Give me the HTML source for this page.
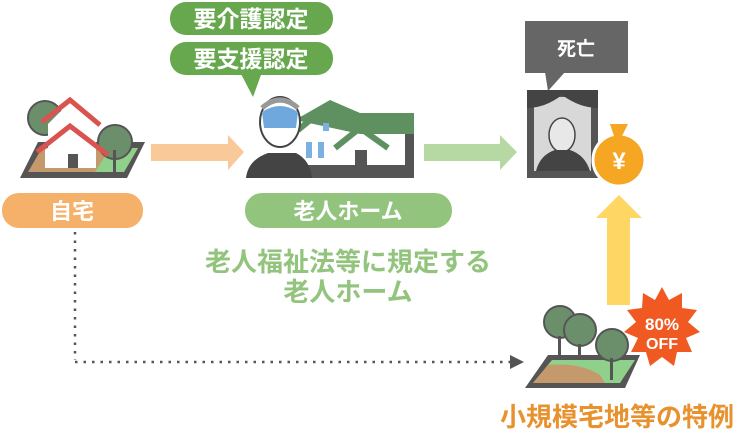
<!DOCTYPE html>
<html><head><meta charset="utf-8"><style>
html,body{margin:0;padding:0;background:#fff;width:738px;height:434px;overflow:hidden}
svg{display:block}
text{font-family:"Liberation Sans","Noto Sans CJK JP",sans-serif;font-weight:bold}
</style></head><body>
<svg width="738" height="434" viewBox="0 0 738 434" xmlns="http://www.w3.org/2000/svg">
<rect x="170" y="2" width="163" height="33" rx="16" fill="#67a84f"/>
<text x="251" y="27" font-size="23" fill="#fff" text-anchor="middle">要介護認定</text>
<rect x="170" y="42" width="163" height="33" rx="16" fill="#67a84f"/>
<polygon points="240,72 262,72 253,97" fill="#67a84f"/>
<text x="251" y="67" font-size="23" fill="#fff" text-anchor="middle">要支援認定</text>

<polygon points="20,178 38,142 145,142 127,178" fill="#555"/>
<polygon points="28,172 42,148 138,148 124,172" fill="#c49a6c"/>
<polygon points="95,172 110,148 138,148 124,172" fill="#8fd18a"/>
<circle cx="45" cy="118" r="17" fill="#6b8f6b" stroke="#555" stroke-width="2"/>
<circle cx="115" cy="142" r="17" fill="#6b8f6b" stroke="#555" stroke-width="2"/>
<rect x="113" y="150" width="3" height="22" fill="#555"/>
<polygon points="48,124 72,100 96,124 96,165 48,165" fill="#fff"/>
<polyline points="42,122 70,100 100,125" fill="none" stroke="#d9534f" stroke-width="5"/>
<polygon points="45,150 70,130 96,150 96,168 45,168" fill="#fff"/>
<polyline points="37,152 70,126 108,155" fill="none" stroke="#d9534f" stroke-width="5"/>
<rect x="68" y="154" width="10" height="14" fill="#555"/>
<rect x="2" y="193" width="141" height="35" rx="17" fill="#f5b06a"/>
<text x="72" y="219" font-size="22" fill="#fff" text-anchor="middle">自宅</text>

<polygon points="151,144 228,144 228,135 244,152 228,170 228,161 151,161" fill="#f9c99a"/>

<rect x="300" y="112" width="114" height="66" fill="#fff"/>
<polygon points="295,120 330,100 360,113 414,113 414,134 360,134" fill="#5f9160"/>
<polyline points="298,130 330,104 355,125" fill="none" stroke="#5f9160" stroke-width="6"/>
<polyline points="335,148 360,128 388,148" fill="none" stroke="#5f9160" stroke-width="6"/>
<rect x="300" y="165" width="114" height="13" fill="#555"/>
<rect x="355" y="150" width="12" height="28" fill="#555"/>
<rect x="405" y="134" width="9" height="44" fill="#555"/>
<rect x="323" y="123" width="6" height="8" fill="#7cb0e0"/>
<rect x="306" y="142" width="6" height="16" fill="#7cb0e0"/>
<rect x="318" y="142" width="6" height="16" fill="#7cb0e0"/>
<path d="M246,178 Q248,160 268,153 L296,153 Q310,160 312,178 Z" fill="#444"/>
<ellipse cx="280" cy="122" rx="20" ry="25" fill="#fff" stroke="#444" stroke-width="2"/>
<path d="M262,112 Q280,100 298,112 L296,128 L264,128 Z" fill="#6fa8dc"/>
<path d="M262,108 Q280,92 298,108" fill="none" stroke="#999" stroke-width="5"/>

<polygon points="424,144 500,144 500,135 517,152 500,170 500,161 424,161" fill="#b6d9a4"/>
<rect x="245" y="193" width="207" height="35" rx="17" fill="#93c47d"/>
<text x="348" y="219" font-size="22" fill="#fff" text-anchor="middle">老人ホーム</text>

<text x="348" y="271" font-size="26" fill="#93c47d" text-anchor="middle">老人福祉法等に規定する</text>
<text x="348" y="301" font-size="26" fill="#93c47d" text-anchor="middle">老人ホーム</text>

<line x1="75" y1="232" x2="75" y2="360" stroke="#555" stroke-width="2.5" stroke-dasharray="2.5,6"/>
<line x1="75" y1="362" x2="512" y2="362" stroke="#555" stroke-width="2.5" stroke-dasharray="2.5,6"/>
<polygon points="510,355 524,362 510,369" fill="#555"/>

<rect x="525" y="21" width="103" height="52" fill="#666"/>
<polygon points="545,72 565,72 548,91" fill="#666"/>
<text x="576" y="55" font-size="19" fill="#fff" text-anchor="middle">死亡</text>
<rect x="527" y="90" width="71" height="88" fill="#555"/>
<rect x="534" y="97" width="57" height="74" fill="#d8d8d8"/>
<path d="M527,90 L598,90 L598,108 Q580,108 562,95 Q545,108 527,108 Z" fill="#444"/>
<ellipse cx="562" cy="135" rx="13" ry="17" fill="#e8e8e8" stroke="#444" stroke-width="1.5"/>
<path d="M536,171 Q540,155 555,150 L570,150 Q585,155 590,171 Z" fill="#444"/>
<circle cx="619" cy="160" r="26" fill="#f5a623" stroke="#fff" stroke-width="3"/>
<polygon points="610,124 628,124 622,136 614,136" fill="#f5a623"/>
<text x="619" y="169" font-size="24" fill="#fff" text-anchor="middle">¥</text>

<polygon points="607,305 630,305 630,218 642,218 619,195 596,218 607,218" fill="#fdd663"/>

<polygon points="525,388 548,355 640,355 625,388" fill="#555"/>
<polygon points="533,383 552,360 635,360 620,383" fill="#8fd18a"/>
<path d="M533,383 L548,365 Q580,362 600,375 L605,383 Z" fill="#c49a6c"/>
<circle cx="560" cy="322" r="16" fill="#6b8f6b" stroke="#555" stroke-width="2"/>
<circle cx="580" cy="330" r="16" fill="#6b8f6b" stroke="#555" stroke-width="2"/>
<circle cx="612" cy="345" r="16" fill="#6b8f6b" stroke="#555" stroke-width="2"/>
<rect x="558" y="336" width="3" height="22" fill="#555"/>
<rect x="578" y="344" width="3" height="14" fill="#555"/>
<rect x="610" y="358" width="3" height="22" fill="#555"/>
<polygon fill="#f05a22" points="662,287 669,300 682,293 682,308 697,310 688,322 700,332 686,338 692,352 677,352 674,366 662,357 650,366 646,352 631,352 638,338 624,332 636,322 627,310 642,308 643,293 655,300"/>
<text x="662" y="330" font-size="17" fill="#fff" text-anchor="middle">80%</text>
<text x="662" y="349" font-size="16" fill="#fff" text-anchor="middle">OFF</text>

<text x="617" y="426" font-size="26" fill="#e8922f" text-anchor="middle">小規模宅地等の特例</text>
</svg>
</body></html>
